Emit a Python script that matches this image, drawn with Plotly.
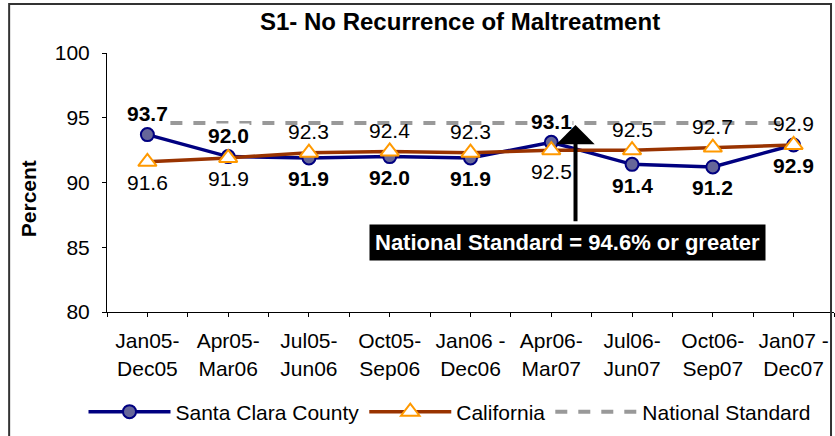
import plotly.graph_objects as go

categories = ["Jan05-<br>Dec05", "Apr05-<br>Mar06", "Jul05-<br>Jun06", "Oct05-<br>Sep06",
              "Jan06 -<br>Dec06", "Apr06-<br>Mar07", "Jul06-<br>Jun07", "Oct06-<br>Sep07",
              "Jan07 -<br>Dec07"]
santa_clara = [93.7, 92.0, 91.9, 92.0, 91.9, 93.1, 91.4, 91.2, 92.9]
california = [91.6, 91.9, 92.3, 92.4, 92.3, 92.5, 92.5, 92.7, 92.9]
national_standard = [94.6] * len(categories)

# label placement (style): +1 above, -1 below
sc_side = [1, 1, -1, -1, -1, 1, -1, -1, -1]
ca_side = [-1, -1, 1, 1, 1, -1, 1, 1, 1]

xs = list(range(len(categories)))
FONT = "Liberation Sans, Arial, sans-serif"

fig = go.Figure()
fig.add_trace(go.Scatter(x=xs, y=national_standard, mode="lines", name="National Standard",
                         line=dict(color="#999999", width=4, dash="12px,11px")))
fig.add_trace(go.Scatter(x=xs, y=santa_clara, mode="lines+markers", name="Santa Clara County",
                         line=dict(color="#000080", width=3.5),
                         marker=dict(symbol="circle", size=13, color="#666699",
                                     line=dict(color="#000080", width=2))))
fig.add_trace(go.Scatter(x=xs, y=california, mode="lines+markers", name="California",
                         line=dict(color="#993300", width=3.5),
                         marker=dict(symbol="triangle-up", size=16, color="white",
                                     line=dict(color="#FF9900", width=2))))

annotations = []
for i, v in enumerate(santa_clara):
    annotations.append(dict(x=xs[i], y=v, xref="x", yref="y", text=f"{v:.1f}", showarrow=False,
                            yshift=21 * sc_side[i], font=dict(family=FONT, size=21, color="black",
                                                              weight="bold"),
                            bgcolor="white", borderpad=0))
for i, v in enumerate(california):
    annotations.append(dict(x=xs[i], y=v, xref="x", yref="y", text=f"{v:.1f}", showarrow=False,
                            yshift=21 * ca_side[i], font=dict(family=FONT, size=21, color="black")))

# arrow pointing to the national standard
annotations.append(dict(x=5.3, y=94.44, xref="x", yref="y", ax=5.3, ay=86.9, axref="x", ayref="y",
                        text="", showarrow=True, arrowhead=1, arrowsize=1.6, arrowwidth=4,
                        arrowcolor="black"))
annotations.append(dict(x=5.2, y=85.4, xref="x", yref="y", text="National Standard = 94.6% or greater",
                        showarrow=False, bgcolor="black", borderpad=5,
                        font=dict(family=FONT, size=22, color="white", weight="bold")))
# y-axis title
annotations.append(dict(x=-0.1085, y=0.436, xref="paper", yref="paper", text="<b>Percent</b>",
                        textangle=-90, showarrow=False, xanchor="center", yanchor="middle",
                        font=dict(family=FONT, size=21, color="black")))

fig.update_layout(
    width=835, height=436,
    margin=dict(l=107, r=1, t=53, b=124, autoexpand=False),
    paper_bgcolor="white", plot_bgcolor="white",
    title=dict(text="<b>S1- No Recurrence of Maltreatment</b>", x=0.551, xanchor="center",
               y=0.95, yanchor="middle",
               font=dict(family=FONT, size=24, color="black")),
    showlegend=True,
    legend=dict(orientation="h", xref="container", yref="container", x=0.1, xanchor="left",
                y=0.055, yanchor="middle",
                font=dict(family=FONT, size=21, color="black"), itemwidth=82,
                traceorder="normal"),
    annotations=annotations,
    shapes=[dict(type="rect", xref="paper", yref="paper", x0=-0.1346, x1=0.9959, y0=1.189, y1=-0.6,
                 line=dict(color="#333333", width=2), fillcolor="rgba(0,0,0,0)", layer="above")],
)
fig.update_xaxes(range=[-0.5, 8.5], tickmode="array", automargin=False,
                 tickvals=[i / 2 for i in range(-1, 2 * len(categories))],
                 ticktext=[categories[i // 2] if i % 2 == 0 and i >= 0 else "" for i in range(-1, 2 * len(categories))],
                 ticks="outside", ticklen=4, tickcolor="black", showline=True, linecolor="black",
                 linewidth=1, showgrid=False, zeroline=False, ticklabelstandoff=6,
                 tickfont=dict(family=FONT, size=21, color="black"))
fig.update_yaxes(range=[80, 100], dtick=5, ticks="outside", ticklen=4, tickcolor="black",
                 showline=True, linecolor="black", linewidth=1, showgrid=False, zeroline=False,
                 ticklabelstandoff=8, automargin=False,
                 tickfont=dict(family=FONT, size=21, color="black"))

# legend order: Santa Clara, California, National Standard
fig.data[0].legendrank = 3
fig.data[1].legendrank = 1
fig.data[2].legendrank = 2

fig.write_html("out.html", config={"displayModeBar": False},
               post_script="document.body.style.margin='0';document.body.style.overflow='hidden';")
